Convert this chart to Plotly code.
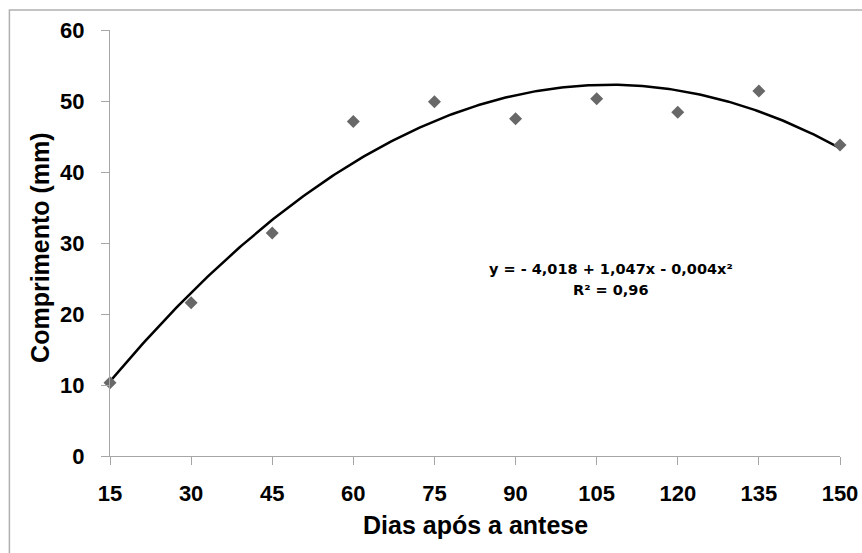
import numpy as np
import plotly.graph_objects as go

# Days after anthesis and measured length (mm)
dias = [15, 30, 45, 60, 75, 90, 105, 120, 135, 150]
comprimento = [10.3, 21.6, 31.4, 47.1, 49.9, 47.5, 50.3, 48.4, 51.4, 43.8]

x_ticks = [15, 30, 45, 60, 75, 90, 105, 120, 135, 150]
y_ticks = [0, 10, 20, 30, 40, 50, 60]

equacao = "y = - 4,018 + 1,047x - 0,004x²"
r2_texto = "R² = 0,96"

# Quadratic trend line fitted to the measurements
coef = np.polyfit(dias, comprimento, 2)
x_fit = np.linspace(min(dias), max(dias), 300)
y_fit = np.polyval(coef, x_fit)

AXIS_GRAY = "#a6a6a6"
TICK_FONT = dict(family="Liberation Sans, Arial, sans-serif", size=22,
                 color="black", weight="bold")
TITLE_FONT = dict(family="Liberation Sans, Arial, sans-serif", size=25, color="black")

fig = go.Figure()
fig.add_trace(go.Scatter(
    x=x_fit, y=y_fit, mode="lines",
    line=dict(color="black", width=2.5),
    hoverinfo="skip", showlegend=False,
))
fig.add_trace(go.Scatter(
    x=dias, y=comprimento, mode="markers",
    marker=dict(symbol="diamond", size=10, color="#686868"),
    cliponaxis=False, showlegend=False,
))

fig.update_xaxes(
    range=[15, 150], tickvals=x_ticks, ticktext=[str(v) for v in x_ticks],
    showline=True, linecolor=AXIS_GRAY, linewidth=1,
    ticks="outside", ticklen=8, tickcolor=AXIS_GRAY, tickwidth=1,
    showgrid=False, zeroline=False, tickfont=TICK_FONT,
    ticklabelstandoff=10, automargin=False,
)
fig.update_yaxes(
    range=[0, 60], tickvals=y_ticks,
    showline=True, linecolor=AXIS_GRAY, linewidth=1,
    ticks="outside", ticklen=8, tickcolor=AXIS_GRAY, tickwidth=1,
    showgrid=False, zeroline=False, tickfont=TICK_FONT,
    ticklabelstandoff=12, automargin=False,
)

fig.add_annotation(
    text="<b>Dias após a antese</b>", xref="paper", yref="paper",
    x=0.5, y=-0.163, xanchor="center", yanchor="middle",
    showarrow=False, font=TITLE_FONT,
)
fig.add_annotation(
    text="<b>Comprimento (mm)</b>", xref="paper", yref="paper",
    x=-0.095, y=0.49, xanchor="center", yanchor="middle", textangle=-90,
    showarrow=False, font=TITLE_FONT,
)
eq_font = dict(family="DejaVu Sans, sans-serif", size=14.5, color="black")
fig.add_annotation(
    text="<b>" + equacao + "</b>", x=107.7, y=26.4,
    xanchor="center", yanchor="middle", showarrow=False, font=eq_font,
)
fig.add_annotation(
    text="<b>" + r2_texto + "</b>", x=107.7, y=23.4,
    xanchor="center", yanchor="middle", showarrow=False, font=eq_font,
)

# Thin grey frame around the chart area
fig.add_shape(
    type="rect", xref="paper", yref="paper",
    x0=-0.1378, y0=-0.30, x1=1.05, y1=1.047,
    line=dict(color="#b0b0b0", width=1.5), fillcolor="rgba(0,0,0,0)",
    layer="below",
)

fig.update_layout(
    width=862, height=553,
    margin=dict(l=110, r=22, t=30, b=97),
    paper_bgcolor="white", plot_bgcolor="white",
    font=TICK_FONT,
)

fig.write_html("out.html")
